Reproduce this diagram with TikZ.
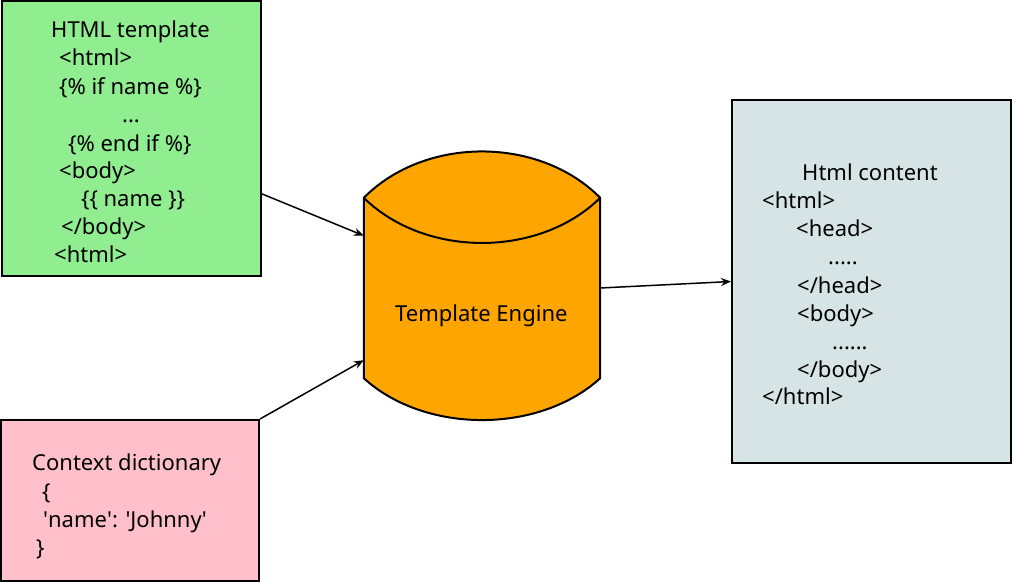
\documentclass[tikz,border=0pt]{standalone}
\usepackage{fontspec}
\setmainfont{Noto Sans}
\usetikzlibrary{arrows.meta,calc}
\definecolor{boxgreen}{HTML}{90EE90}
\definecolor{boxpink}{HTML}{FFC0CB}
\definecolor{boxorange}{HTML}{FFA500}
\definecolor{boxgrey}{RGB}{215,228,229}
\tikzset{
  box/.style={draw=black, line width=2pt, inner sep=0pt},
  txt/.style={anchor=base west, inner sep=0pt, font=\fontsize{22}{26}\selectfont},
  conn/.style={line width=1.5pt, -{Stealth[length=10pt,width=8pt]}},
}
\begin{document}
\begin{tikzpicture}[x=1pt,y=-1pt]
\useasboundingbox (0,0) rectangle (1012,582);
% boxes
\node[box, fill=boxgreen, minimum width=259pt, minimum height=275pt] (green) at (131.5,138.5) {};
\node[box, fill=boxpink, minimum width=258pt, minimum height=161pt] (pink) at (130,500.5) {};
\node[box, fill=boxgrey, minimum width=279pt, minimum height=363pt] (grey) at (871.5,281.5) {};
% engine
\node[inner sep=0pt, minimum width=236pt, minimum height=180pt] (engine) at (482,288) {};
\draw[line width=2pt, fill=boxorange, line join=round]
  (engine.north west) .. controls (425,136) and (539,136) .. (engine.north east)
  -- (engine.south east) .. controls (539,434) and (425,434) .. (engine.south west) -- cycle;
\draw[line width=2pt] (engine.north west) .. controls (425,258) and (539,258) .. (engine.north east);
\node[txt] (englabel) at (395,321) {Template Engine};
% green text
\node[txt] (g1) at (51,37) {HTML template};
\node[txt] (g2) at (59,65) {<html>};
\node[txt] (g3) at (59,94) {\{\% if name \%\}};
\node[txt] (g4) at (122,122) {...};
\node[txt] (g5) at (68,151) {\{\% end if \%\}};
\node[txt] (g6) at (59,178) {<body>};
\node[txt] (g7) at (81,206) {\{\{ name \}\}};
\node[txt] (g8) at (61,234) {</body>};
\node[txt] (g9) at (54,262) {<html>};
% pink text
\node[txt] (p1) at (32,470) {Context dictionary};
\node[txt] (p2) at (42,499) {\{};
\node[txt] (p3) at (43,527) {\textquotesingle name\textquotesingle: \textquotesingle Johnny\textquotesingle};
\node[txt] (p4) at (36,555) {\}};
% grey text
\node[txt] (r1) at (802,180) {Html content};
\node[txt] (r2) at (762,208) {<html>};
\node[txt] (r3) at (796,236) {<head>};
\node[txt] (r4) at (828,264) {.....};
\node[txt] (r5) at (797,293) {</head>};
\node[txt] (r6) at (797,321) {<body>};
\node[txt] (r7) at (832,349) {......};
\node[txt] (r8) at (797,377) {</body>};
\node[txt] (r9) at (762,404) {</html>};
% connectors
\draw[conn] ($(green.north east)!0.70!(green.south east)$) -- ($(engine.north west)!0.21!(engine.south west)$);
\draw[conn] (pink.north east) -- ($(engine.north west)!0.90!(engine.south west)$);
\draw[conn] (engine.east) -- (grey.west);
\end{tikzpicture}
\end{document}
